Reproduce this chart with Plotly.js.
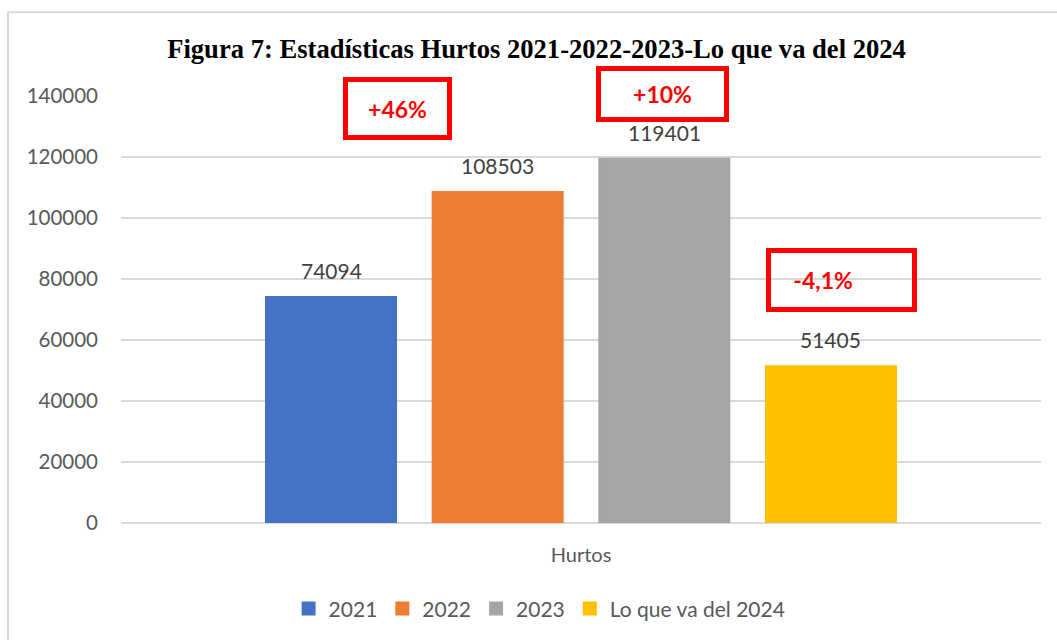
<!DOCTYPE html>
<html>
<head>
<meta charset="utf-8">
<script src="https://cdn.plot.ly/plotly-3.0.1.min.js"></script>
<style>html,body{margin:0;padding:0;background:#fff;}#chart{width:1057px;height:640px;}</style>
</head>
<body>
<div id="chart"></div>
<script>
const categories = ["Hurtos"];
const seriesNames = ["2021", "2022", "2023", "Lo que va del 2024"];
const seriesValues = [[74094], [108503], [119401], [51405]];
const seriesColors = ["#4472C4", "#ED7D31", "#A5A5A5", "#FFC000"];
const changeLabels = ["+46%", "+10%", "-4,1%"];
const yTicks = [0, 20000, 40000, 60000, 80000, 100000, 120000, 140000];

const W = 1057, H = 640;
const margin = {l: 121, r: 16, t: 96, b: 116};
const plotW = W - margin.l - margin.r;
const bargap = 0.2754;
const slotPx = plotW * (1 - bargap) / seriesNames.length;

const traces = seriesNames.map((name, i) => ({
  type: "bar",
  name: name,
  x: categories,
  y: seriesValues[i],
  marker: {color: seriesColors[i], line: {color: seriesColors[i], width: 2}},
  hoverinfo: "none"
}));

const labelAnnotations = [];
seriesNames.forEach((name, i) => {
  categories.forEach((c, j) => {
    labelAnnotations.push({
      xref: "x", yref: "y", x: c, y: seriesValues[i][j],
      text: String(seriesValues[i][j]), showarrow: false,
      xanchor: "center", yanchor: "bottom",
      xshift: (i - (seriesNames.length - 1) / 2) * slotPx, yshift: 12,
      font: {family: "Lato, sans-serif", size: 21, color: "#404040"}
    });
  });
});

const boxStyle = {
  xref: "paper", yref: "paper", showarrow: false,
  bordercolor: "#FF0000", borderwidth: 5, borderpad: 0,
  font: {family: "Lato, sans-serif", size: 23, color: "#FF0000", weight: "bold"},
  xanchor: "center", yanchor: "middle"
};

const layout = {
  width: W, height: H,
  margin: margin,
  paper_bgcolor: "#ffffff", plot_bgcolor: "#ffffff",
  title: {
    text: "<b>Figura 7: Estadísticas Hurtos 2021-2022-2023-Lo que va del 2024</b>",
    font: {family: "Liberation Serif, Times New Roman, serif", size: 26.6, color: "#000000"},
    xref: "container", x: 0.5076, xanchor: "center",
    yref: "container", y: 1 - 49/640, yanchor: "middle"
  },
  barmode: "group",
  bargap: bargap,
  bargroupgap: 0.22,
  showlegend: true,
  legend: {
    orientation: "h", xref: "paper", x: 0.455, xanchor: "center",
    yref: "paper", y: -0.198, yanchor: "middle",
    font: {family: "Lato, sans-serif", size: 21, color: "#595959"},
    itemwidth: 30, traceorder: "normal"
  },
  xaxis: {
    type: "category",
    showgrid: false, zeroline: false, showline: false, ticks: "",
    ticklabelstandoff: 18,
    tickfont: {family: "Lato, sans-serif", size: 20, color: "#595959"},
    fixedrange: true
  },
  yaxis: {
    range: [0, 140000],
    tickvals: yTicks,
    ticktext: yTicks.map(v => String(v)),
    showgrid: true, gridcolor: "#D9D9D9", gridwidth: 2,
    zeroline: true, zerolinecolor: "#D9D9D9", zerolinewidth: 2,
    showline: false, ticks: "",
    ticklabelstandoff: 22,
    tickfont: {family: "Lato, sans-serif", size: 20.5, color: "#595959"},
    fixedrange: true
  },
  shapes: [{
    type: "rect", xref: "paper", yref: "paper",
    x0: -0.1228, x1: 1.2, y0: -0.5, y1: 1.1963,
    line: {color: "#D9D9D9", width: 2}, fillcolor: "rgba(0,0,0,0)", layer: "below"
  }],
  annotations: labelAnnotations.concat([
    Object.assign({}, boxStyle, {text: changeLabels[0], x: 0.3005, y: 0.9708, width: 99, height: 53}),
    Object.assign({}, boxStyle, {text: changeLabels[1], x: 0.5886, y: 1.0047, width: 123, height: 46}),
    Object.assign({}, boxStyle, {text: "&nbsp;&nbsp;&nbsp;&nbsp;" + changeLabels[2], x: 0.7832, y: 0.5701, width: 141, height: 54, align: "left"})
  ])
};

Plotly.newPlot("chart", traces, layout, {displayModeBar: false, staticPlot: true});
</script>
</body>
</html>
